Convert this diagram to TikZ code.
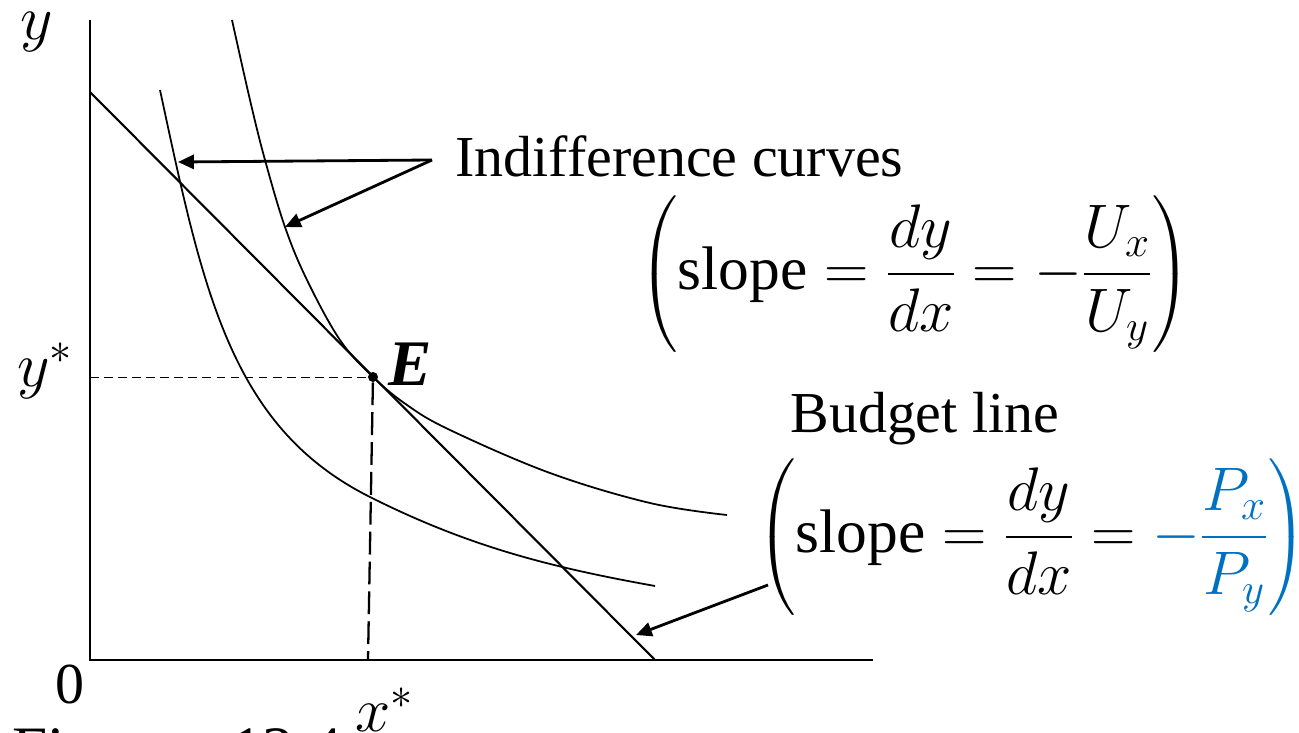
\RequirePackage{fix-cm}
\documentclass[tikz,border=0pt]{standalone}
\usepackage{amsmath}
\usepackage{fontspec}
\setmainfont{Liberation Serif}
\usetikzlibrary{arrows.meta}
\definecolor{eqblue}{HTML}{0070C0}
\begin{document}
\begin{tikzpicture}[x=0.02cm,y=-0.02cm,
  axis/.style={line width=1.2pt},
  curve/.style={line width=1.0pt},
  lbl/.style={font=\fontsize{33}{40}\selectfont, inner sep=0pt},
  mlbl/.style={font=\fontsize{36}{44}\selectfont, inner sep=0pt},
  eqn/.style={font=\fontsize{35}{42}\selectfont, inner sep=0pt},
  pointer/.style={line width=1.6pt, -{Triangle[length=9pt,width=8pt]}},
  guide/.style={line width=0.5pt, dash pattern=on 5pt off 3pt},
  guideb/.style={line width=1.3pt, dash pattern=on 13pt off 4pt},
]
\useasboundingbox (0,0) rectangle (1299,733);
% axes
\coordinate (ytop) at (90,20);
\coordinate (O) at (90,660);
\coordinate (xend) at (873,660);
\draw[axis] (ytop) -- (O) -- (xend);
% budget line
\coordinate (B1) at (90,92);
\coordinate (B2) at (655,660);
\draw[axis] (B1) -- (B2);
% indifference curves
\draw[curve] plot[smooth, tension=0.6] coordinates {(232,20) (250,100) (265,160) (285,227) (307,280) (340,340) (373,377) (407,405) (450,430) (550,473) (650,503) (727,515)};
\draw[curve] (160,90) .. controls (203,290) and (230,428) .. (372,498)
                      .. controls (472,548) and (555,568) .. (655,586);
% equilibrium
\node[circle, fill, inner sep=0pt, minimum size=0.2cm] (E) at (373,377) {};
\coordinate (ystar) at (90,377);
\coordinate (xstar) at (368,660);
\draw[guide] (ystar) -- (E);
\draw[guideb] (E) -- (xstar);
\node[lbl, anchor=base west, font=\fontsize{37}{44}\selectfont\bfseries\itshape] (Elbl) at (388,385) {E};
% axis labels
\node[mlbl, anchor=base west] (ylbl) at (20,40) {$y$};
\node[lbl, anchor=base] (zero) at (70,703) {0};
\node[mlbl, anchor=base west] (yslbl) at (17,386) {$y^{*}$};
\node[mlbl, anchor=base west] (xslbl) at (355,731) {$x^{*}$};
\node[lbl, anchor=base west, font=\fontsize{36}{44}\selectfont] (fig) at (12,770) {Figure\hspace{0.85em}12.4};
% labels and pointers
\node[lbl, anchor=base west] (ict) at (455,177) {Indifference curves};
\coordinate (icp) at (432,160);
\coordinate (ic1) at (178,162);
\coordinate (ic2) at (285,227);
\draw[pointer] (icp) -- (ic1);
\draw[pointer] (icp) -- (ic2);
\node[eqn] (eq1) at (915,274) {$\displaystyle\left(\text{slope} = \frac{dy}{dx} = -\frac{U_x}{U_y}\right)$};
\node[lbl, anchor=base west] (blt) at (790,432) {Budget line};
\node[eqn] (eq2) at (1032,537) {$\displaystyle\left(\text{slope} = \frac{dy}{dx} = \color{eqblue}-\frac{P_x}{P_y}\right)$};
\coordinate (blp) at (768,585);
\coordinate (blq) at (636,635);
\draw[pointer] (blp) -- (blq);
\end{tikzpicture}
\end{document}
